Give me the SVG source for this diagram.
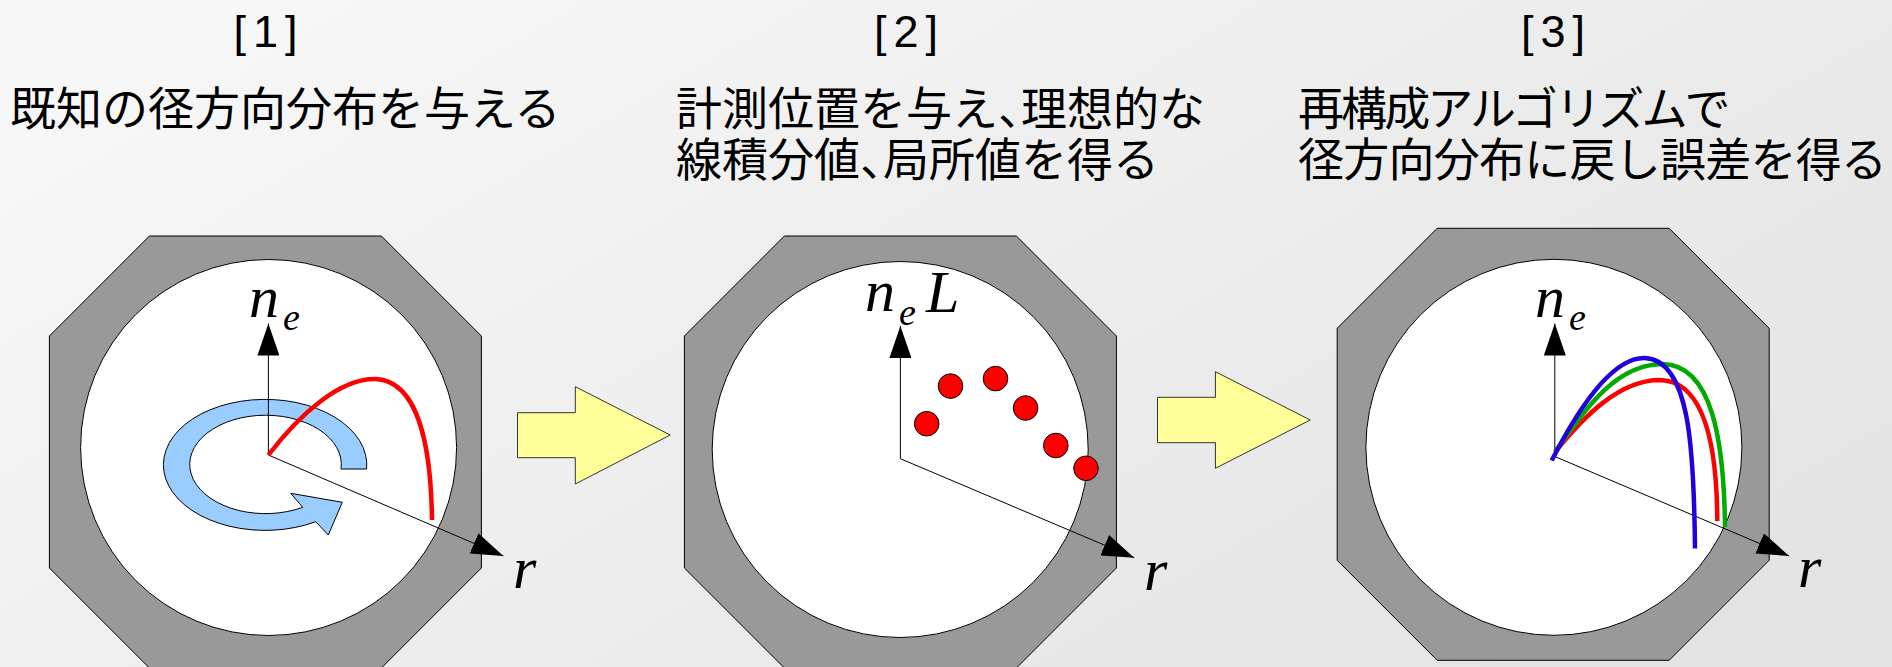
<svg xmlns="http://www.w3.org/2000/svg" width="1892" height="667" viewBox="0 0 1892 667">
<defs>
<linearGradient id="bg" x1="0" y1="0.2" x2="1" y2="0.8">
<stop offset="0" stop-color="#f7f7f7"/>
<stop offset="1" stop-color="#e3e3e3"/>
</linearGradient>
<marker id="ah" viewBox="0 0 32 22" refX="32" refY="11" markerWidth="32" markerHeight="22" markerUnits="userSpaceOnUse" orient="auto">
<path d="M0,0 L32,11 L0,22 Z" fill="#000"/>
</marker>
<polygon id="oct" points="100,0 332,0 432,100 432,332 332,432 100,432 0,332 0,100"/>
</defs>
<style>
.oct{fill:#999999;stroke:#000;stroke-width:1}
.win{fill:#fff;stroke:#000;stroke-width:1}
.axis{fill:none;stroke:#000;stroke-width:1;marker-end:url(#ah)}
.math{font-family:"Liberation Serif",serif;font-style:italic;fill:#000}
.jp{font-family:"Noto Sans CJK JP","Noto Sans",sans-serif;font-size:46px;fill:#000}
.num{font-family:"Liberation Sans",Arial,sans-serif;font-size:45px;letter-spacing:7px;fill:#000;text-anchor:middle}
.halt{font-feature-settings:"halt"}
.curve{fill:none;stroke-width:4.5;stroke-linecap:butt}
.big{fill:#ffff99;stroke:#333;stroke-width:1}
.dot{fill:#ff0000;stroke:#000;stroke-width:1}
</style>
<rect width="1892" height="667" fill="url(#bg)"/>

<g id="title1">
<text class="num" x="269" y="47">[1]</text>
<text class="jp" x="10" y="125">既知の径方向分布を与える</text>
</g>
<g id="title2">
<text class="num" x="909.5" y="47">[2]</text>
<text class="jp halt"><tspan x="676" y="125">計測位置を与え、理想的な</tspan><tspan x="676" y="176">線積分値、局所値を得る</tspan></text>
</g>
<g id="title3">
<text class="num" x="1556.5" y="47">[3]</text>
<text class="jp"><tspan x="1298" y="125" letter-spacing="-2.9">再構成アルゴリズムで</tspan><tspan x="1298" y="176" letter-spacing="-0.75">径方向分布に戻し誤差を得る</tspan></text>
</g>

<g id="panel1">
<use href="#oct" class="oct" x="49.4" y="236"/>
<circle class="win" cx="268.6" cy="447.5" r="188"/>
<path d="M366.6,469 A101.7,65.5 0 1 0 315.7,521.7 L328.3,535 L342.3,502.3 L290.7,493.3 L302.7,507.3 A75.8,49.2 0 1 1 341,469 Z" fill="#99ccff" stroke="#000" stroke-width="1"/>
<line class="axis" x1="268.4" y1="455" x2="268.4" y2="323.5"/>
<line class="axis" x1="268.4" y1="455" x2="503.4" y2="556"/>
<path class="curve" stroke="#ff0000" d="M268.4,455 C300,414 340,378 376,379 C416,381 431,440 432,520"/>
<text class="math" x="249" y="316.7" font-size="60">n</text>
<text class="math" x="283" y="330" font-size="38">e</text>
<text class="math" x="513" y="588" font-size="60">r</text>
</g>

<g id="panel2">
<use href="#oct" class="oct" x="684.4" y="236"/>
<circle class="win" cx="900.2" cy="449.5" r="188"/>
<line class="axis" x1="900.4" y1="458.7" x2="900.4" y2="326"/>
<line class="axis" x1="900.4" y1="458.7" x2="1134.2" y2="557.7"/>
<circle class="dot" cx="926.7" cy="423.7" r="12.3"/>
<circle class="dot" cx="950.5" cy="386.1" r="12.3"/>
<circle class="dot" cx="995.5" cy="378.6" r="12.3"/>
<circle class="dot" cx="1025.6" cy="408" r="12.3"/>
<circle class="dot" cx="1055.8" cy="445.5" r="12.3"/>
<circle class="dot" cx="1086" cy="468.3" r="12.3"/>
<text class="math" x="865" y="310.7" font-size="60">n</text>
<text class="math" x="899" y="325" font-size="38">e</text>
<text class="math" x="926" y="311.7" font-size="60">L</text>
<text class="math" x="1144" y="590" font-size="60">r</text>
</g>

<g id="panel3">
<use href="#oct" class="oct" x="1337.2" y="228.3"/>
<circle class="win" cx="1553.9" cy="447.3" r="188"/>
<line class="axis" x1="1554.8" y1="456.5" x2="1554.8" y2="323.5"/>
<line class="axis" x1="1554.8" y1="456.5" x2="1789.1" y2="556"/>
<path class="curve" stroke="#ff0000" d="M1555,452 C1585,415 1620,380 1660,380 C1703,381 1717,440 1717.3,521"/>
<path class="curve" stroke="#00aa00" d="M1555,452 C1585,410 1615,364 1663,364 C1712,365 1724,440 1725,527"/>
<path class="curve" stroke="#2200dd" d="M1551.7,460.5 C1575,415 1610,357 1645,358 C1690,360 1694,450 1695,548.5"/>
<text class="math" x="1535" y="316.7" font-size="60">n</text>
<text class="math" x="1569" y="330" font-size="38">e</text>
<text class="math" x="1798" y="587" font-size="60">r</text>
</g>

<g id="connectors">
<polygon class="big" points="517.5,412.7 575.3,412.7 575.3,386.7 670.2,435 575.3,484 575.3,457.7 517.5,457.7"/>
<polygon class="big" points="1157.5,397.3 1215.4,397.3 1215.4,371.7 1310.2,420 1215.4,468.3 1215.4,442.7 1157.5,442.7"/>
</g>
</svg>
